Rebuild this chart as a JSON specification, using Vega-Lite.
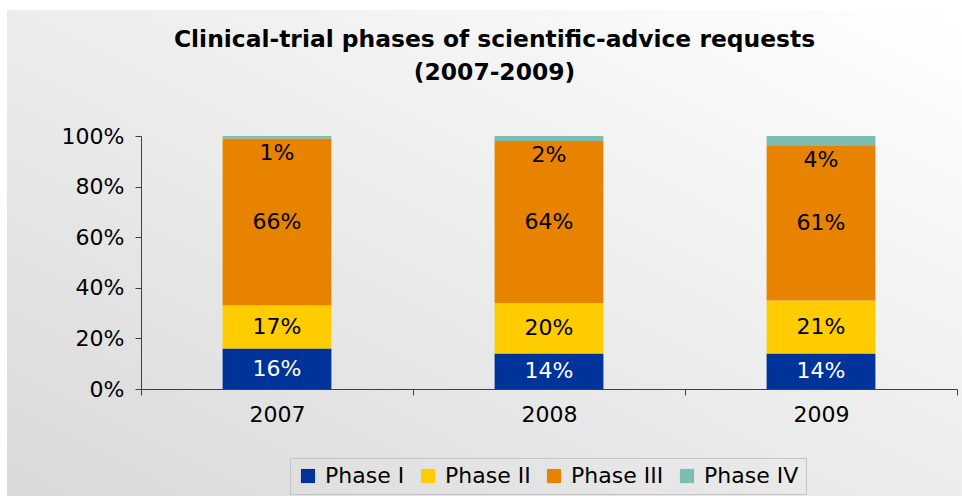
{
  "$schema": "https://vega.github.io/schema/vega-lite/v6.json",
  "width": 955,
  "height": 486,
  "autosize": {"type": "none"},
  "padding": {"left": 7, "top": 10, "right": 0, "bottom": 0},
  "background": "#ffffff",
  "config": {
    "font": "DejaVu Sans",
    "view": {
      "stroke": null,
      "fill": {
        "gradient": "linear",
        "x1": 0, "y1": 1, "x2": 1, "y2": 0,
        "stops": [
          {"offset": 0, "color": "#d9d9d9"},
          {"offset": 1, "color": "#ffffff"}
        ]
      }
    }
  },
  "title": {
    "text": ["Clinical-trial phases of scientific-advice requests", "(2007-2009)"],
    "font": "DejaVu Sans",
    "fontSize": 23.4,
    "fontWeight": "bold",
    "color": "#000000",
    "lineHeight": 33,
    "anchor": "middle",
    "frame": "group",
    "offset": -75,
    "dx": 10
  },
  "data": {
    "values": [
      {"year": "2007", "phase": "Phase I", "value": 0.16},
      {"year": "2007", "phase": "Phase II", "value": 0.17},
      {"year": "2007", "phase": "Phase III", "value": 0.66},
      {"year": "2007", "phase": "Phase IV", "value": 0.01},
      {"year": "2008", "phase": "Phase I", "value": 0.14},
      {"year": "2008", "phase": "Phase II", "value": 0.20},
      {"year": "2008", "phase": "Phase III", "value": 0.64},
      {"year": "2008", "phase": "Phase IV", "value": 0.02},
      {"year": "2009", "phase": "Phase I", "value": 0.14},
      {"year": "2009", "phase": "Phase II", "value": 0.21},
      {"year": "2009", "phase": "Phase III", "value": 0.61},
      {"year": "2009", "phase": "Phase IV", "value": 0.04}
    ]
  },
  "transform": [
    {"stack": "value", "groupby": ["year"], "sort": [{"field": "phase", "order": "ascending"}], "as": ["y0", "y1"]},
    {"calculate": "(datum.y0 + datum.y1) / 2", "as": "ymid"}
  ],
  "encoding": {
    "x": {
      "field": "year",
      "type": "nominal",
      "sort": ["2007", "2008", "2009"],
      "scale": {"range": [134, 950], "paddingInner": 0, "paddingOuter": 0},
      "axis": {
        "title": null,
        "offset": -107,
        "labelAngle": 0,
        "labelFont": "DejaVu Sans",
        "labelFontSize": 22,
        "labelColor": "#000000",
        "labelPadding": 9,
        "domainColor": "#404040",
        "domainWidth": 1,
        "tickColor": "#404040",
        "tickSize": 6,
        "tickBand": "extent",
        "grid": false
      }
    }
  },
  "layer": [
    {
      "mark": {"type": "bar", "width": {"band": 0.4}},
      "encoding": {
        "y": {
          "field": "y0",
          "type": "quantitative",
          "scale": {"domain": [0, 1], "range": [379, 126], "nice": false},
          "axis": {
            "title": null,
            "offset": -134,
            "values": [0, 0.2, 0.4, 0.6, 0.8, 1],
            "format": ".0%",
            "labelFont": "DejaVu Sans",
            "labelFontSize": 22,
            "labelColor": "#000000",
            "labelPadding": 11,
            "domainColor": "#404040",
            "tickColor": "#404040",
            "tickSize": 6,
            "grid": false
          }
        },
        "y2": {"field": "y1"},
        "color": {
          "field": "phase",
          "type": "nominal",
          "scale": {
            "domain": ["Phase I", "Phase II", "Phase III", "Phase IV"],
            "range": ["#003399", "#ffcc00", "#e88300", "#7dbcb0"]
          },
          "legend": {
            "title": null,
            "orient": "none",
            "legendX": 283,
            "legendY": 448,
            "direction": "horizontal",
            "symbolType": "square",
            "symbolSize": 200,
            "symbolStrokeWidth": 0,
            "labelFont": "DejaVu Sans",
            "labelFontSize": 22,
            "labelColor": "#000000",
            "labelOffset": 6,
            "columnPadding": 12,
            "padding": 7,
            "strokeColor": "#c4c4c4",
            "labelLimit": 300
          }
        }
      }
    },
    {
      "transform": [{"filter": "datum.phase !== 'Phase IV'"}],
      "mark": {"type": "text", "fontSize": 22, "font": "DejaVu Sans", "baseline": "middle"},
      "encoding": {
        "y": {"field": "ymid", "type": "quantitative"},
        "text": {"field": "value", "type": "quantitative", "format": ".0%"},
        "color": {
          "condition": {"test": "datum.phase === 'Phase I'", "value": "#ffffff"},
          "value": "#000000"
        }
      }
    },
    {
      "transform": [{"filter": "datum.phase === 'Phase IV'"}],
      "mark": {"type": "text", "fontSize": 22, "font": "DejaVu Sans", "baseline": "top", "dy": 4, "color": "#000000"},
      "encoding": {
        "y": {"field": "y0", "type": "quantitative"},
        "text": {"field": "value", "type": "quantitative", "format": ".0%"}
      }
    }
  ]
}
